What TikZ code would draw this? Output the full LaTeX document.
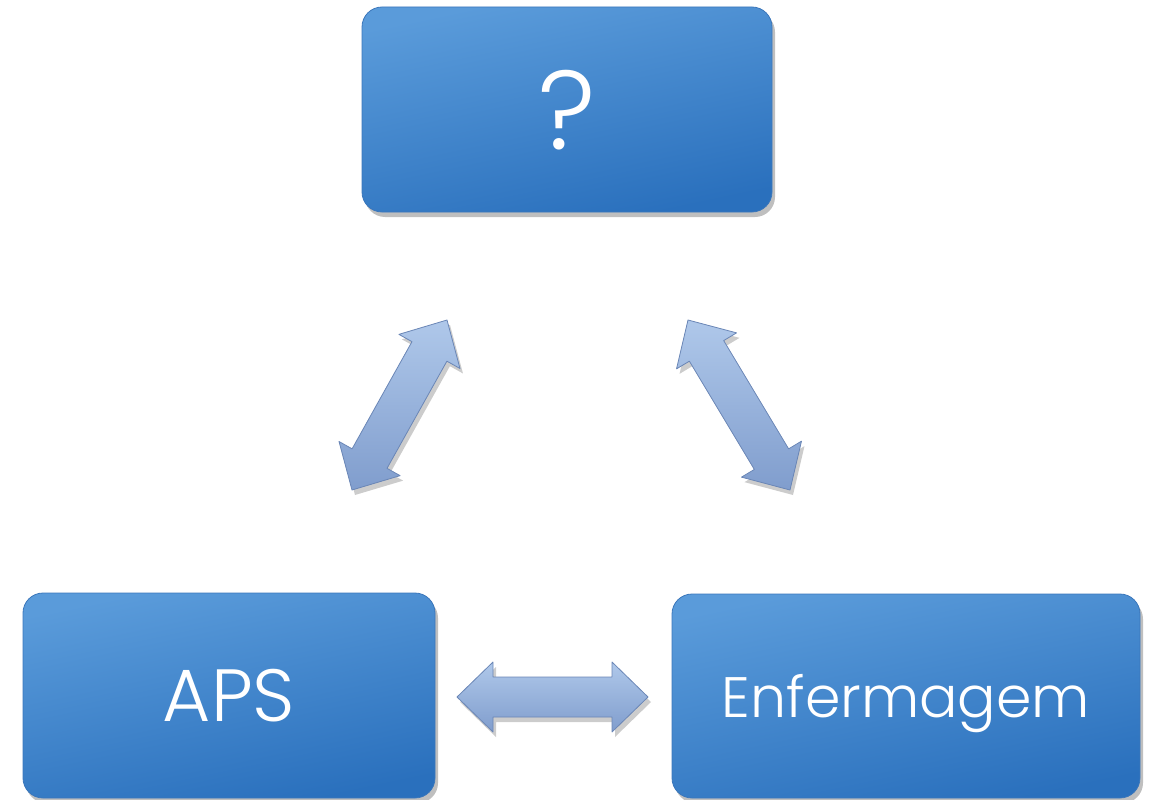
\documentclass[tikz,border=0pt]{standalone}
\usepackage{fontspec}
\setmainfont{Poppins}[UprightFont=* Light]
\usetikzlibrary{calc,shadows}

\definecolor{boxlight}{HTML}{5A9BDA}
\definecolor{boxdark}{HTML}{2A70BD}
\definecolor{boxedge}{HTML}{3B77BB}
\definecolor{arrlight}{HTML}{AFC8EA}
\definecolor{arrdark}{HTML}{809DCD}
\definecolor{arredge}{HTML}{6A86B6}

\tikzset{
  tile/.style={rounded corners=20pt, draw=boxedge, line width=0.8pt,
    top color=boxlight, bottom color=boxdark, shading angle=12,
    text=white, text depth=0pt,
    drop shadow={shadow xshift=3pt, shadow yshift=-5pt, opacity=0.25, fill=black}},
  fatarrow/.style={top color=arrlight, bottom color=arrdark, draw=arredge,
    line width=0.8pt, line join=round,
    drop shadow={shadow xshift=3pt, shadow yshift=-5pt, opacity=0.2, fill=black}}
}

% double-headed block arrow between two named points
\newcommand\biarrow[2]{%
  \path[fatarrow] (#1)
    -- ($(#1)!36pt!(#2)!35pt!90:(#2)$)
    -- ($(#1)!36pt!(#2)!20pt!90:(#2)$)
    -- ($(#2)!36pt!(#1)!20pt!-90:(#1)$)
    -- ($(#2)!36pt!(#1)!35pt!-90:(#1)$)
    -- (#2)
    -- ($(#2)!36pt!(#1)!35pt!90:(#1)$)
    -- ($(#2)!36pt!(#1)!20pt!90:(#1)$)
    -- ($(#1)!36pt!(#2)!20pt!-90:(#2)$)
    -- ($(#1)!36pt!(#2)!35pt!-90:(#2)$)
    -- cycle;}

\begin{document}
\begin{tikzpicture}[x=1pt,y=-1pt]
\useasboundingbox (0,0) rectangle (1149,800);

% boxes
\node[tile, minimum width=410pt, minimum height=205pt] (top) at (567,109.5)
  {\fontsize{112}{120}\selectfont ?};
\node[tile, minimum width=412pt, minimum height=205pt] (aps) at (229,695.5)
  {\fontsize{74}{80}\selectfont APS};
\node[tile, minimum width=468pt, minimum height=204pt] (enf) at (906,696)
  {\fontsize{57}{62}\selectfont Enfermagem};

% arrow end points
\coordinate (la) at (352,490);
\coordinate (lb) at (447,320);
\coordinate (ra) at (688,320);
\coordinate (rb) at (790,490);
\coordinate (ha) at (457,697);
\coordinate (hb) at (648,697);

\biarrow{la}{lb}
\biarrow{ra}{rb}
\biarrow{ha}{hb}
\end{tikzpicture}
\end{document}
